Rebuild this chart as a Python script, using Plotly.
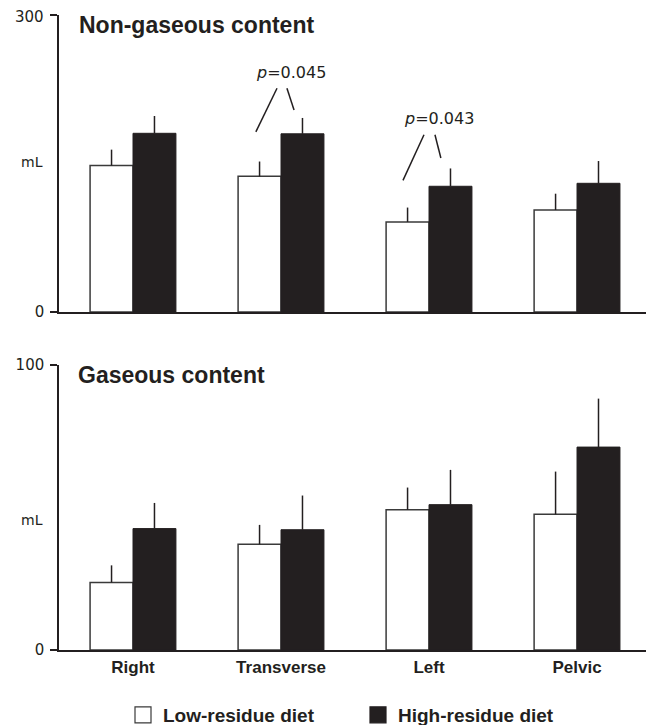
import plotly.graph_objects as go

categories = ["Right", "Transverse", "Left", "Pelvic"]

# Non-gaseous content (mL)
nongas_low = [148, 137, 91, 103]
nongas_low_err = [16, 15, 14.5, 16.5]
nongas_high = [180.5, 180, 127, 130]
nongas_high_err = [17.5, 16, 18, 22.5]

# Gaseous content (mL)
gas_low = [23.7, 37.1, 49.2, 47.6]
gas_low_err = [6, 6.8, 7.8, 15]
gas_high = [42.6, 42.2, 51, 71.2]
gas_high_err = [9, 12, 12.2, 17]

series_names = ["Low-residue diet", "High-residue diet"]
top_range = [0, 300]
bottom_range = [0, 100]
top_ticktext = ["0", "300"]
bottom_ticktext = ["0", "100"]

# p-value annotations: (category index, text, text y, left line, right line)
pvals = [
    dict(idx=1, text="<i>p</i>=0.045", ty=242,
         l=((-0.17, 182), (-0.027, 226)), r=((0.04, 226), (0.088, 204))),
    dict(idx=2, text="<i>p</i>=0.043", ty=195,
         l=((-0.176, 133), (-0.034, 179)), r=((0.04, 179), (0.08, 155.6))),
]

INK = "#231f20"
OX, OY = 8, 8          # page body margin offset
W, H = 654 - OX, 725 - OY
ML = 59 - OX
PW = W - ML

def px_x(px):
    return (px - OX - ML) / PW

def px_y(py):
    return 1 - (py - OY) / H

fig = go.Figure()

LOW_MARKER = dict(color="white", line=dict(color="#3a3a3a", width=1.5))
HIGH_MARKER = dict(color=INK, line=dict(color=INK, width=1))

def add_pair(low, low_err, high, high_err, xa, ya):
    fig.add_trace(go.Bar(
        x=categories, y=low, name=series_names[0], xaxis=xa, yaxis=ya,
        marker=LOW_MARKER,
        error_y=dict(type="data", symmetric=False, array=low_err,
                     arrayminus=[0] * len(low), width=0, thickness=1.5, color=INK),
        showlegend=False, legendgroup="low"))
    fig.add_trace(go.Bar(
        x=categories, y=high, name=series_names[1], xaxis=xa, yaxis=ya,
        marker=HIGH_MARKER,
        error_y=dict(type="data", symmetric=False, array=high_err,
                     arrayminus=[0] * len(high), width=0, thickness=1.5, color=INK),
        showlegend=False, legendgroup="high"))

add_pair(nongas_low, nongas_low_err, nongas_high, nongas_high_err, "x", "y")
add_pair(gas_low, gas_low_err, gas_high, gas_high_err, "x2", "y2")

# legend entries (larger square swatches)
for name, grp, mk in [(series_names[0], "low", LOW_MARKER),
                      (series_names[1], "high", HIGH_MARKER)]:
    fig.add_trace(go.Scatter(
        x=[None], y=[None], mode="markers", name=name, legendgroup=grp,
        marker=dict(symbol="square", size=18, color=mk["color"],
                    line=dict(color=mk["line"]["color"], width=1.2)),
        xaxis="x2", yaxis="y2", showlegend=True, hoverinfo="skip"))

TICKFONT = dict(family="DejaVu Sans", size=15, color=INK)
xcommon = dict(type="category", range=[-0.5, 3.52], showline=True, linecolor=INK,
               linewidth=1.5, showgrid=False, zeroline=False, ticks="",
               fixedrange=True)
ycommon = dict(showline=True, linecolor=INK, linewidth=1.5, showgrid=False,
               zeroline=False, ticks="outside", ticklen=7, tickwidth=1.5,
               tickcolor=INK, tickfont=TICKFONT,
               ticklabelstandoff=3, ticklabeloverflow="allow")

fig.update_layout(
    width=W, height=H,
    margin=dict(l=ML, r=0, t=0, b=0, autoexpand=False),
    paper_bgcolor="white", plot_bgcolor="white",
    barmode="group", bargap=0.42, bargroupgap=0,
    xaxis=dict(**xcommon, anchor="y", showticklabels=False),
    xaxis2=dict(**xcommon, anchor="y2", showticklabels=True,
                tickfont=dict(family="Liberation Sans", size=17, color=INK, weight="bold"),
                ticklabelstandoff=1),
    # top label of the upper axis is drawn as an annotation so it stays on the page
    yaxis=dict(**ycommon, range=top_range, tickvals=top_range,
               ticktext=[top_ticktext[0], ""],
               domain=[px_y(312), px_y(15)], anchor="x"),
    yaxis2=dict(**ycommon, range=bottom_range, tickvals=bottom_range,
                ticktext=bottom_ticktext,
                domain=[px_y(650), px_y(365)], anchor="x2"),
    legend=dict(orientation="h", x=px_x(123), y=px_y(715), xanchor="left",
                yanchor="middle", font=dict(family="Liberation Sans", size=19,
                                            color=INK, weight="bold"),
                itemwidth=30, traceorder="normal", entrywidth=190,
                itemsizing="trace"),
    showlegend=True,
)

fig.add_annotation(text=top_ticktext[1], xref="paper", yref="paper",
                   x=px_x(46), y=px_y(17), xanchor="right", yanchor="middle",
                   showarrow=False, font=TICKFONT)

# Panel titles
fig.add_annotation(text="<b>Non-gaseous content</b>", xref="paper", yref="paper",
                   x=px_x(77), y=px_y(25), xanchor="left", yanchor="middle",
                   showarrow=False, font=dict(family="Liberation Sans", size=23, color=INK))
fig.add_annotation(text="<b>Gaseous content</b>", xref="paper", yref="paper",
                   x=px_x(76), y=px_y(375), xanchor="left", yanchor="middle",
                   showarrow=False, font=dict(family="Liberation Sans", size=23, color=INK))

# mL labels
fig.add_annotation(text="mL", xref="paper", yref="y", x=px_x(45), y=152,
                   xanchor="right", yanchor="middle", showarrow=False,
                   font=dict(family="DejaVu Sans", size=14, color=INK))
fig.add_annotation(text="mL", xref="paper", yref="y2", x=px_x(45), y=45.6,
                   xanchor="right", yanchor="middle", showarrow=False,
                   font=dict(family="DejaVu Sans", size=14, color=INK))

# p-value annotations
for p in pvals:
    i = p["idx"]
    fig.add_annotation(text=p["text"], xref="x", yref="y", x=i + 0.07, y=p["ty"],
                       xanchor="center", yanchor="middle", showarrow=False,
                       font=dict(family="DejaVu Sans", size=16, color=INK))
    for seg in (p["l"], p["r"]):
        (dx0, y0), (dx1, y1) = seg
        fig.add_shape(type="line", xref="x", yref="y", x0=i + dx0, y0=y0,
                      x1=i + dx1, y1=y1, line=dict(color=INK, width=1.5))

fig.write_html("out.html")
